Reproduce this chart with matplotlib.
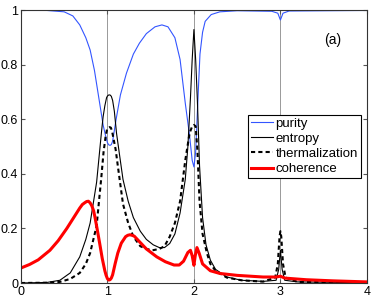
import numpy as np
import matplotlib
matplotlib.use('Agg')
import matplotlib.pyplot as plt

plt.rcParams['font.family'] = ['Liberation Sans', 'DejaVu Sans']

# pontos
x_pur = [0, 0.3, 0.5, 0.6, 0.68, 0.75, 0.8, 0.85, 0.9, 0.95, 0.975, 1.0, 1.015, 1.03, 1.045,
         1.06, 1.08, 1.1, 1.15, 1.22, 1.3, 1.37, 1.45, 1.55, 1.63, 1.7, 1.78, 1.84, 1.9,
         1.95, 1.98, 2.0, 2.02, 2.05, 2.07, 2.1, 2.13, 2.2, 2.3, 2.5, 2.9, 2.97, 3.0,
         3.03, 3.1, 4.0]
purity = [1.0, 1.0, 0.995, 0.98, 0.947, 0.9, 0.855, 0.78, 0.68, 0.58, 0.545, 0.515, 0.507,
          0.505, 0.508, 0.52, 0.56, 0.6, 0.69, 0.77, 0.84, 0.88, 0.915, 0.94, 0.947, 0.94,
          0.9, 0.82, 0.66, 0.54, 0.45, 0.426, 0.48, 0.70, 0.84, 0.92, 0.96, 0.985, 0.995,
          0.999, 0.997, 0.99, 0.965, 0.99, 0.998, 1.0]

x_ent = [0, 0.3, 0.45, 0.57, 0.68, 0.75, 0.8, 0.875, 0.93, 0.95, 0.97, 0.99, 1.0, 1.015,
         1.03, 1.045, 1.06, 1.08, 1.105, 1.14, 1.18, 1.24, 1.3, 1.38, 1.45, 1.53, 1.6,
         1.66, 1.72, 1.78, 1.84, 1.9, 1.93, 1.96, 1.98, 2.0, 2.02, 2.04, 2.065, 2.1, 2.14,
         2.19, 2.25, 2.38, 2.55, 2.8, 2.95, 2.98, 3.0, 3.02, 3.05, 3.2, 4.0]
entropy = [0, 0.002, 0.01, 0.037, 0.096, 0.16, 0.22, 0.37, 0.55, 0.61, 0.65, 0.68, 0.686,
           0.69, 0.69, 0.685, 0.67, 0.63, 0.55, 0.47, 0.38, 0.3, 0.24, 0.19, 0.16, 0.14,
           0.13, 0.13, 0.145, 0.18, 0.257, 0.38, 0.5, 0.68, 0.82, 0.93, 0.82, 0.67, 0.43,
           0.24, 0.14, 0.084, 0.05, 0.022, 0.01, 0.006, 0.01, 0.05, 0.12, 0.05, 0.01,
           0.004, 0.001]

x_th = [0, 0.3, 0.45, 0.57, 0.68, 0.75, 0.8, 0.875, 0.93, 0.955, 0.98, 0.995, 1.01, 1.025,
        1.04, 1.055, 1.07, 1.095, 1.12, 1.15, 1.18, 1.24, 1.3, 1.38, 1.45, 1.52, 1.6,
        1.66, 1.72, 1.78, 1.84, 1.9, 1.95, 1.98, 2.0, 2.02, 2.04, 2.065, 2.1, 2.15, 2.19,
        2.25, 2.38, 2.55, 2.8, 2.94, 2.97, 2.99, 3.0, 3.01, 3.03, 3.06, 3.2, 4.0]
thermal = [0, 0.001, 0.004, 0.015, 0.037, 0.07, 0.11, 0.21, 0.39, 0.48, 0.54, 0.563,
           0.57, 0.572, 0.57, 0.555, 0.53, 0.49, 0.43, 0.36, 0.29, 0.22, 0.17, 0.135,
           0.125, 0.12, 0.125, 0.135, 0.17, 0.22, 0.30, 0.45, 0.55, 0.575, 0.58, 0.575,
           0.49, 0.30, 0.18, 0.11, 0.07, 0.045, 0.02, 0.01, 0.005, 0.02, 0.07, 0.17, 0.19,
           0.17, 0.07, 0.02, 0.004, 0.001]

x_coh = [0, 0.1, 0.2, 0.335, 0.43, 0.53, 0.62, 0.68, 0.71, 0.74, 0.76, 0.78, 0.8, 0.82,
         0.84, 0.855, 0.88, 0.91, 0.94, 0.97, 0.985, 1.0, 1.015, 1.03, 1.045, 1.06, 1.09,
         1.12, 1.16, 1.21, 1.235, 1.26, 1.285, 1.31, 1.375, 1.45, 1.57, 1.67, 1.77, 1.83,
         1.88, 1.93, 1.96, 1.98, 2.0, 2.015, 2.035, 2.06, 2.1, 2.19, 2.3, 2.5, 2.8, 2.95,
         3.0, 3.05, 3.3, 3.6, 4.0]
coherence = [0.055, 0.068, 0.085, 0.12, 0.155, 0.2, 0.245, 0.275, 0.288, 0.295, 0.299,
             0.3, 0.294, 0.283, 0.265, 0.243, 0.2, 0.146, 0.09, 0.045, 0.028, 0.016, 0.011,
             0.012, 0.018, 0.03, 0.072, 0.11, 0.146, 0.17, 0.175, 0.177, 0.175, 0.172,
             0.15, 0.125, 0.096, 0.078, 0.066, 0.066, 0.08, 0.112, 0.12, 0.1, 0.065, 0.1,
             0.13, 0.11, 0.07, 0.045, 0.035, 0.028, 0.022, 0.022, 0.025, 0.018, 0.012,
             0.008, 0.004]

x_ticks = [0, 1, 2, 3, 4]
y_ticks = [0, 0.2, 0.4, 0.6, 0.8, 1]
y_labels = ['0', '0.2', '0.4', '0.6', '0.8', '1']

fig = plt.figure(figsize=(3.74, 2.99), dpi=100)
ax = fig.add_axes([0.056, 0.0535, 0.925, 0.9115])

for xv in [1, 2, 3]:
    ax.axvline(xv, color='#999999', lw=0.7, zorder=0)

ax.plot(x_pur, purity, color='#3355ff', lw=0.8, label='purity')
ax.plot(x_ent, entropy, color='black', lw=0.8, label='entropy')
ax.plot(x_th, thermal, color='black', lw=1.5, ls=(0, (2, 1.5)), label='thermalization')
ax.plot(x_coh, coherence, color='red', lw=2.2, label='coherence')

ax.set_xlim(0, 4)
ax.set_ylim(0, 1)
ax.set_xticks(x_ticks)
ax.set_xticklabels([str(t) for t in x_ticks])
ax.set_yticks(y_ticks)
ax.set_yticklabels(y_labels)
ax.tick_params(direction='in', top=True, right=True, labelsize=9, length=3, pad=2,
               color='#555555')
for s in ax.spines.values():
    s.set_color('#333333')
    s.set_linewidth(0.8)

ax.text(0.90, 0.89, '(a)', transform=ax.transAxes, fontsize=10, ha='center', va='center')

leg = ax.legend(loc='upper left', bbox_to_anchor=(0.656, 0.617), borderaxespad=0,
                fontsize=9.5, fancybox=False, edgecolor='black', framealpha=1,
                handlelength=1.7, handletextpad=0.2, borderpad=0.2, labelspacing=0.22)
leg.get_frame().set_linewidth(0.8)

fig.savefig('out.png', dpi=100)
